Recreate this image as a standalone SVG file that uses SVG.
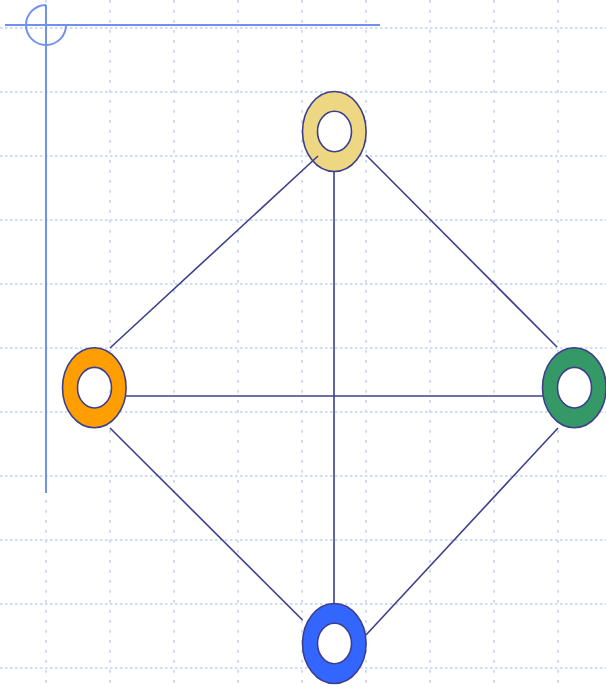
<svg xmlns="http://www.w3.org/2000/svg" width="606" height="687" viewBox="0 0 606 687">
<style>
.gh{stroke:#cfdbf7;stroke-width:2;stroke-dasharray:2.5 2.5;fill:none}
.gv{stroke:#cfdbf7;stroke-width:2;stroke-dasharray:2.7 7.3;fill:none}
.ax{stroke:#7090ee;stroke-width:2;fill:none}
.ring{stroke:#3d3f8c;stroke-width:1.6;fill-rule:evenodd}
.edge{stroke:#3d3f8c;stroke-width:1.6;fill:none}
</style>
<rect width="606" height="687" fill="#ffffff"/>
<g id="grid">
<path class="gh" d="M0,28H606M0,92H606M0,156H606M0,220H606M0,284H606M0,348H606M0,412H606M0,476H606M0,540H606M0,604H606M0,668H606"/>
<path class="gv" d="M46,0V687M110,0V687M174,0V687M238,0V687M302,0V687M366,0V687M430,0V687M494,0V687M558,0V687"/>
</g>
<g id="axes">
<path class="ax" d="M5,25H380M46,5V493M46,5A20,20 0 1 0 66,25"/>
</g>
<g id="node-top"><path class="ring" fill="#eed783" d="M302.5,131.5a31.8,40 0 1 0 63.6,0a31.8,40 0 1 0 -63.6,0ZM317.5,131.5a17,20.3 0 1 0 34,0a17,20.3 0 1 0 -34,0Z"/></g>
<g id="node-left"><path class="ring" fill="#ff9e00" d="M62.5,387.7a31.8,40 0 1 0 63.6,0a31.8,40 0 1 0 -63.6,0ZM77.5,387.7a17,20.3 0 1 0 34,0a17,20.3 0 1 0 -34,0Z"/></g>
<g id="node-right"><path class="ring" fill="#349966" d="M542.5,387.7a31.8,40 0 1 0 63.6,0a31.8,40 0 1 0 -63.6,0ZM557.5,387.7a17,20.3 0 1 0 34,0a17,20.3 0 1 0 -34,0Z"/></g>
<g id="node-bottom"><path class="ring" fill="#3366ff" d="M302.5,643.5a31.8,40 0 1 0 63.6,0a31.8,40 0 1 0 -63.6,0ZM317.5,643.5a17,20.3 0 1 0 34,0a17,20.3 0 1 0 -34,0Z"/></g>
<g id="connectors">
<line class="edge" x1="318" y1="156" x2="110" y2="348"/>
<line class="edge" x1="366" y1="155" x2="557" y2="347"/>
<line class="edge" x1="334" y1="171.5" x2="334" y2="603.5"/>
<line class="edge" x1="126" y1="396" x2="543" y2="396"/>
<line class="edge" x1="110" y1="428" x2="302.5" y2="620"/>
<line class="edge" x1="558" y1="428" x2="366" y2="635"/>
</g>
</svg>
